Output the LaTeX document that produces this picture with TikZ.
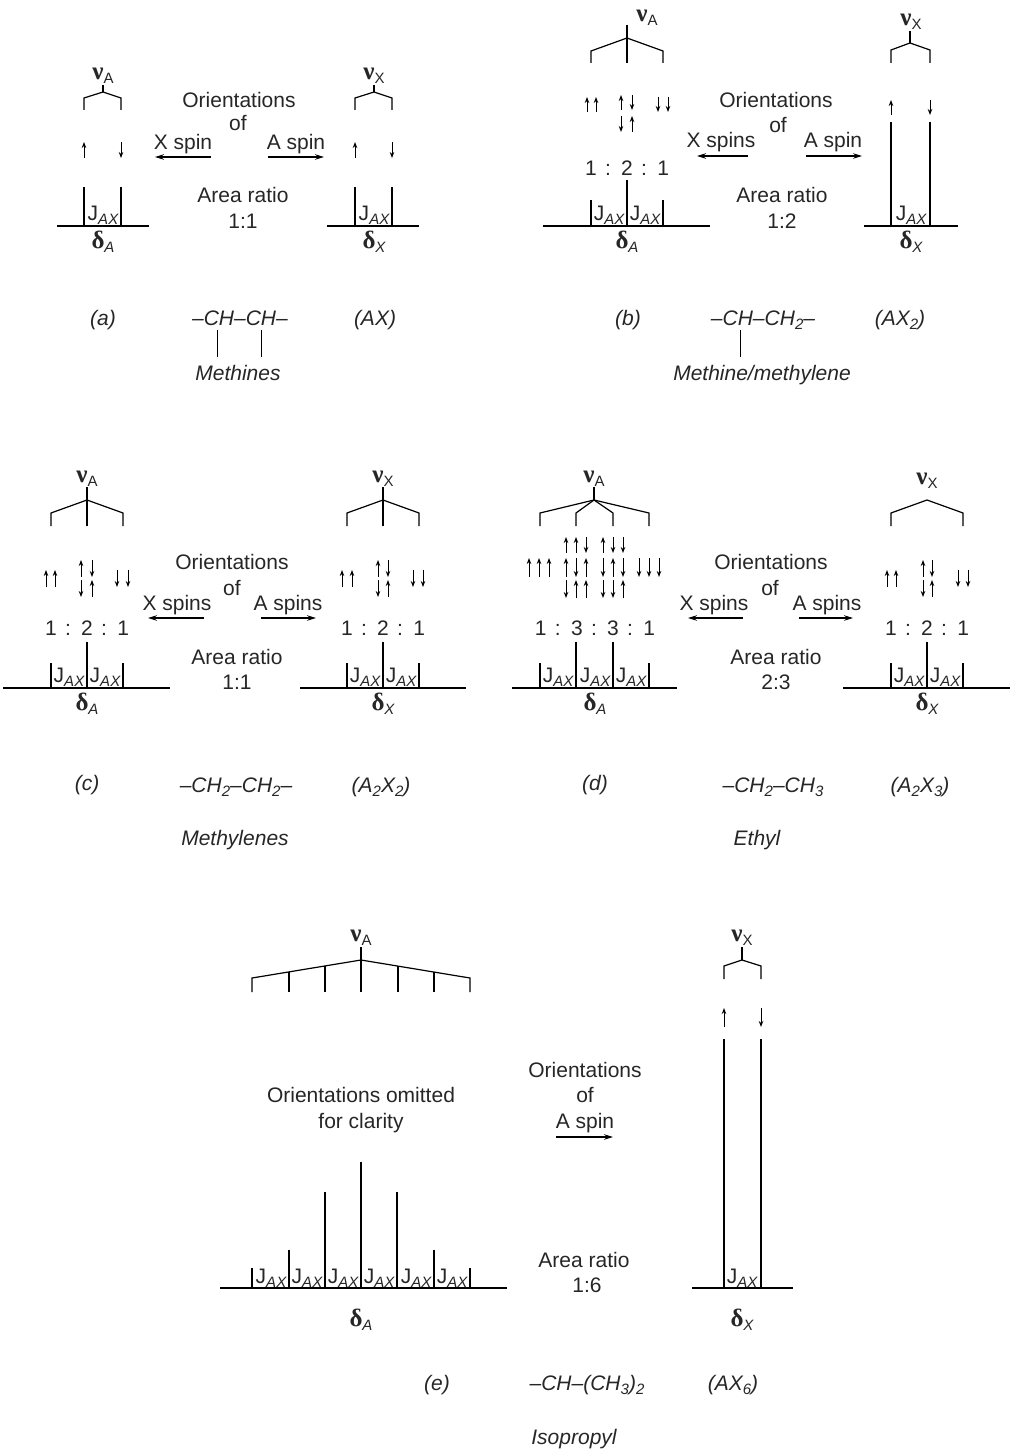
\documentclass[tikz,border=0pt]{standalone}
\usepackage{fontspec}
\setmainfont{Liberation Sans}
\newfontfamily\grk{Liberation Serif}
\usepackage{tikz}
\usetikzlibrary{arrows.meta}
\newcommand{\lowsub}[1]{\raisebox{-4pt}{\fontsize{15}{15}\selectfont #1}}
\newcommand{\jax}{J\lowsub{\itshape AX}}
\newcommand{\nulab}[1]{{\grk\bfseries\fontsize{25}{25}\selectfont ν}\lowsub{#1}}
\newcommand{\dellab}[1]{{\grk\bfseries\fontsize{25}{25}\selectfont δ}\lowsub{\itshape #1}}
\begin{document}
\begin{tikzpicture}[x=1pt,y=-1pt,
  lbl/.style={font=\fontsize{21}{24}\selectfont,text=black!85,inner sep=0pt,text height=15pt,text depth=0pt},
  itl/.style={lbl,font=\fontsize{21}{24}\selectfont\itshape},
  glab/.style={font=\fontsize{21}{24}\selectfont,text=black!85,inner sep=0pt,anchor=base},
  axisln/.style={line width=2.8pt},
  pk/.style={line width=1.2pt},
  brk/.style={line width=1.2pt},
  bond/.style={line width=1pt},
  spin/.style={line width=1pt,-{Stealth[length=6pt,width=4.5pt]}},
  orarr/.style={line width=1.2pt,-{Stealth[length=9pt,width=5.5pt]}}]
\useasboundingbox (0,0) rectangle (1010,1450);

% ---- (a) AX ----
\node[glab] (nuAa) at (103,80) {\nulab{A}};
\draw[brk] (103,85) -- (103,92);
\draw[brk] (84,110) -- (84,98) -- (103,92) -- (121,98) -- (121,110);
\foreach \x/\a/\b in {84/158/142,121/142/158} \draw[spin] (\x,\a) -- (\x,\b);
\draw[pk] (84,187) -- (84,226);
\draw[pk] (121,187) -- (121,226);
\draw[axisln] (57,226) -- (149,226);
\node[glab] (jAa) at (103,220) {\jax};
\node[glab] (dAa) at (103,248) {\dellab{A}};

\node[glab] (nuXa) at (374,80) {\nulab{X}};
\draw[brk] (374,85) -- (374,92);
\draw[brk] (355,110) -- (355,98) -- (374,92) -- (392,98) -- (392,110);
\foreach \x/\a/\b in {355/158/142,392/142/158} \draw[spin] (\x,\a) -- (\x,\b);
\draw[pk] (355,187) -- (355,226);
\draw[pk] (392,187) -- (392,226);
\draw[axisln] (327,226) -- (419,226);
\node[glab] (jXa) at (374,220) {\jax};
\node[glab] (dXa) at (374,248) {\dellab{X}};

\node[lbl] (oria) at (239,100) {Orientations};
\node[lbl] (ofa) at (238,123) {of};
\node[lbl] (xsa) at (183,142) {X spin};
\node[lbl] (asa) at (296,142) {A spin};
\coordinate (xta) at (211,157);
\coordinate (xha) at (155,157);
\coordinate (ata) at (268,157);
\coordinate (aha) at (324,157);
\draw[orarr] (xta) -- (xha);
\draw[orarr] (ata) -- (aha);
\node[lbl] (arra) at (243,195) {Area ratio};
\node[lbl] (rata) at (243,221) {1:1};

\node[itl] (taga) at (103,318) {(a)};
\node[itl] (chema) at (240,318) {--CH--CH--};
\draw[bond] (217,330) -- (217,357);
\draw[bond] (261,330) -- (261,357);
\node[itl] (namea) at (238,373) {Methines};
\node[itl] (sysa) at (375,318) {(AX)};

% ---- (b) AX2 ----
\node[glab] (nuAb) at (647,22) {\nulab{A}};
\draw[brk] (627,25) -- (627,63);
\draw[brk] (591,63) -- (591,51) -- (627,38) -- (663,51) -- (663,63);
\foreach \x/\a/\b in {587/112/97,596/112/97,621/110/95,632/95/110,621/116/132,632/132/116,658/97/112,668/97/112}
  \draw[spin] (\x,\a) -- (\x,\b);
\node[lbl] (intb) at (627,168) {1\hspace{2.5pt} :\hspace{2.5pt} 2\hspace{2.5pt} :\hspace{2.5pt} 1};
\draw[pk] (627,180) -- (627,226);
\draw[pk] (591,200) -- (591,226);
\draw[pk] (663,200) -- (663,226);
\draw[axisln] (543,226) -- (710,226);
\node[glab] (jAb1) at (609,220) {\jax};
\node[glab] (jAb2) at (645,220) {\jax};
\node[glab] (dAb) at (627,248) {\dellab{A}};

\node[glab] (nuXb) at (911,26) {\nulab{X}};
\draw[brk] (910,31) -- (910,43);
\draw[brk] (891,63) -- (891,50) -- (910,43) -- (930,50) -- (930,63);
\foreach \x/\a/\b in {891/115/100,930/100/115} \draw[spin] (\x,\a) -- (\x,\b);
\draw[pk] (891,122) -- (891,226);
\draw[pk] (930,122) -- (930,226);
\draw[axisln] (864,226) -- (958,226);
\node[glab] (jXb) at (911,220) {\jax};
\node[glab] (dXb) at (911,248) {\dellab{X}};

\node[lbl] (orib) at (776,100) {Orientations};
\node[lbl] (ofb) at (778,125) {of};
\node[lbl] (xsb) at (721,140) {X spins};
\node[lbl] (asb) at (833,140) {A spin};
\coordinate (xtb) at (748,156);
\coordinate (xhb) at (697,156);
\coordinate (atb) at (806,156);
\coordinate (ahb) at (862,156);
\draw[orarr] (xtb) -- (xhb);
\draw[orarr] (atb) -- (ahb);
\node[lbl] (arrb) at (782,195) {Area ratio};
\node[lbl] (ratb) at (782,221) {1:2};

\node[itl] (tagb) at (628,318) {(b)};
\node[itl] (chemb) at (763,318) {--CH--CH\lowsub{2}--};
\draw[bond] (740,330) -- (740,357);
\node[itl] (nameb) at (762,373) {Methine/methylene};
\node[itl] (sysb) at (900,318) {(AX\lowsub{2})};

% ---- (c) A2X2 ----
\node[glab] (nuAc) at (87,482) {\nulab{A}};
\draw[brk] (87,487) -- (87,526);
\draw[brk] (51,526) -- (51,513) -- (87,500) -- (123,513) -- (123,526);
\foreach \x/\a/\b in {46/587/570,55/587/570,81/577/560,92/560/577,81/580/597,92/597/580,117/570/587,128/570/587}
  \draw[spin] (\x,\a) -- (\x,\b);
\node[lbl] (intAc) at (87,628) {1\hspace{2.5pt} :\hspace{2.5pt} 2\hspace{2.5pt} :\hspace{2.5pt} 1};
\draw[pk] (87,642) -- (87,688);
\draw[pk] (51,663) -- (51,688);
\draw[pk] (123,663) -- (123,688);
\draw[axisln] (3,688) -- (170,688);
\node[glab] (jAc1) at (69,682) {\jax};
\node[glab] (jAc2) at (105,682) {\jax};
\node[glab] (dAc) at (87,710) {\dellab{A}};

\node[glab] (nuXc) at (383,482) {\nulab{X}};
\draw[brk] (383,487) -- (383,526);
\draw[brk] (347,526) -- (347,513) -- (383,500) -- (419,513) -- (419,526);
\foreach \x/\a/\b in {342/587/570,352/587/570,378/577/560,388/560/577,378/580/597,388/597/580,413/570/587,423/570/587}
  \draw[spin] (\x,\a) -- (\x,\b);
\node[lbl] (intXc) at (383,628) {1\hspace{2.5pt} :\hspace{2.5pt} 2\hspace{2.5pt} :\hspace{2.5pt} 1};
\draw[pk] (383,642) -- (383,688);
\draw[pk] (347,663) -- (347,688);
\draw[pk] (419,663) -- (419,688);
\draw[axisln] (300,688) -- (466,688);
\node[glab] (jXc1) at (365,682) {\jax};
\node[glab] (jXc2) at (401,682) {\jax};
\node[glab] (dXc) at (383,710) {\dellab{X}};

\node[lbl] (oric) at (232,562) {Orientations};
\node[lbl] (ofc) at (232,588) {of};
\node[lbl] (xsc) at (177,603) {X spins};
\node[lbl] (asc) at (288,603) {A spins};
\coordinate (xtc) at (204,618);
\coordinate (xhc) at (148,618);
\coordinate (atc) at (261,618);
\coordinate (ahc) at (316,618);
\draw[orarr] (xtc) -- (xhc);
\draw[orarr] (atc) -- (ahc);
\node[lbl] (arrc) at (237,657) {Area ratio};
\node[lbl] (ratc) at (237,682) {1:1};

\node[itl] (tagc) at (87,783) {(c)};
\node[itl] (chemc) at (236,785) {--CH\lowsub{2}--CH\lowsub{2}--};
\node[itl] (sysc) at (381,785) {(A\lowsub{2}X\lowsub{2})};
\node[itl] (namec) at (235,838) {Methylenes};

% ---- (d) A2X3 ----
\node[glab] (nuAd) at (594,482) {\nulab{A}};
\draw[brk] (594,487) -- (594,500);
\draw[brk] (540,526) -- (540,513) -- (594,500) -- (649,513) -- (649,526);
\draw[brk] (576,526) -- (576,513) -- (594,500) -- (613,513) -- (613,526);
\foreach \x/\a/\b in {529/577/558,539/577/558,549/577/558,
    566/553/537,576/553/537,586/537/553,566/577/558,576/558/577,586/577/558,
    566/580/598,576/598/580,586/598/580,
    603/553/537,613/537/553,623/537/553,603/558/577,613/577/558,623/558/577,
    603/580/598,613/580/598,623/598/580,
    639/558/577,649/558/577,659/558/577}
  \draw[spin] (\x,\a) -- (\x,\b);
\node[lbl] (intAd) at (595,628) {1\hspace{2.5pt} :\hspace{2.5pt} 3\hspace{2.5pt} :\hspace{2.5pt} 3\hspace{2.5pt} :\hspace{2.5pt} 1};
\draw[pk] (576,642) -- (576,688);
\draw[pk] (613,642) -- (613,688);
\draw[pk] (540,663) -- (540,688);
\draw[pk] (649,663) -- (649,688);
\draw[axisln] (512,688) -- (677,688);
\node[glab] (jAd1) at (558,682) {\jax};
\node[glab] (jAd2) at (595,682) {\jax};
\node[glab] (jAd3) at (631,682) {\jax};
\node[glab] (dAd) at (595,710) {\dellab{A}};

\node[glab] (nuXd) at (927,484) {\nulab{X}};
\draw[brk] (891,526) -- (891,513) -- (927,500) -- (963,513) -- (963,526);
\foreach \x/\a/\b in {887/587/570,896/587/570,923/577/560,932/560/577,923/580/597,932/597/580,958/570/587,968/570/587}
  \draw[spin] (\x,\a) -- (\x,\b);
\node[lbl] (intXd) at (927,628) {1\hspace{2.5pt} :\hspace{2.5pt} 2\hspace{2.5pt} :\hspace{2.5pt} 1};
\draw[pk] (927,642) -- (927,688);
\draw[pk] (891,663) -- (891,688);
\draw[pk] (963,663) -- (963,688);
\draw[axisln] (843,688) -- (1010,688);
\node[glab] (jXd1) at (909,682) {\jax};
\node[glab] (jXd2) at (945,682) {\jax};
\node[glab] (dXd) at (927,710) {\dellab{X}};

\node[lbl] (orid) at (771,562) {Orientations};
\node[lbl] (ofd) at (770,588) {of};
\node[lbl] (xsd) at (714,603) {X spins};
\node[lbl] (asd) at (827,603) {A spins};
\coordinate (xtd) at (743,618);
\coordinate (xhd) at (688,618);
\coordinate (atd) at (799,618);
\coordinate (ahd) at (853,618);
\draw[orarr] (xtd) -- (xhd);
\draw[orarr] (atd) -- (ahd);
\node[lbl] (arrd) at (776,657) {Area ratio};
\node[lbl] (ratd) at (776,682) {2:3};

\node[itl] (tagd) at (595,783) {(d)};
\node[itl] (chemd) at (773,785) {--CH\lowsub{2}--CH\lowsub{3}};
\node[itl] (sysd) at (920,785) {(A\lowsub{2}X\lowsub{3})};
\node[itl] (named) at (757,838) {Ethyl};

% ---- (e) AX6 ----
\node[glab] (nuAe) at (361,941) {\nulab{A}};
\draw[brk] (361,947) -- (361,992);
\draw[brk] (252,992) -- (252,978) -- (361,960) -- (470,978) -- (470,992);
\draw[brk] (289,972) -- (289,992);
\draw[brk] (325,966) -- (325,992);
\draw[brk] (398,966) -- (398,992);
\draw[brk] (434,972) -- (434,992);
\node[lbl] (omite) at (361,1095) {Orientations omitted};
\node[lbl] (clare) at (361,1121) {for clarity};
\draw[pk] (252,1268) -- (252,1288);
\draw[pk] (289,1250) -- (289,1288);
\draw[pk] (325,1192) -- (325,1288);
\draw[pk] (361,1162) -- (361,1288);
\draw[pk] (397,1192) -- (397,1288);
\draw[pk] (434,1250) -- (434,1288);
\draw[pk] (470,1268) -- (470,1288);
\draw[axisln] (220,1288) -- (507,1288);
\node[glab] (jAe1) at (271,1283) {\jax};
\node[glab] (jAe2) at (307,1283) {\jax};
\node[glab] (jAe3) at (343,1283) {\jax};
\node[glab] (jAe4) at (379,1283) {\jax};
\node[glab] (jAe5) at (416,1283) {\jax};
\node[glab] (jAe6) at (452,1283) {\jax};
\node[glab] (dAe) at (361,1326) {\dellab{A}};

\node[glab] (nuXe) at (742,941) {\nulab{X}};
\draw[brk] (742,947) -- (742,960);
\draw[brk] (724,979) -- (724,966) -- (742,960) -- (761,966) -- (761,979);
\foreach \x/\a/\b in {724/1027/1008,761/1008/1027} \draw[spin] (\x,\a) -- (\x,\b);
\draw[pk] (724,1039) -- (724,1288);
\draw[pk] (761,1039) -- (761,1288);
\draw[axisln] (692,1288) -- (793,1288);
\node[glab] (jXe) at (742,1283) {\jax};
\node[glab] (dXe) at (742,1326) {\dellab{X}};

\node[lbl] (orie) at (585,1070) {Orientations};
\node[lbl] (ofe) at (585,1095) {of};
\node[lbl] (ase) at (585,1121) {A spin};
\coordinate (ate) at (556,1137);
\coordinate (ahe) at (613,1137);
\draw[orarr] (ate) -- (ahe);
\node[lbl] (arre) at (584,1260) {Area ratio};
\node[lbl] (rate) at (587,1285) {1:6};

\node[itl] (tage) at (437,1383) {(e)};
\node[itl] (cheme) at (587,1383) {--CH--(CH\lowsub{3})\lowsub{2}};
\node[itl] (syse) at (733,1383) {(AX\lowsub{6})};
\node[itl] (namee) at (574,1437) {Isopropyl};
\end{tikzpicture}
\end{document}
